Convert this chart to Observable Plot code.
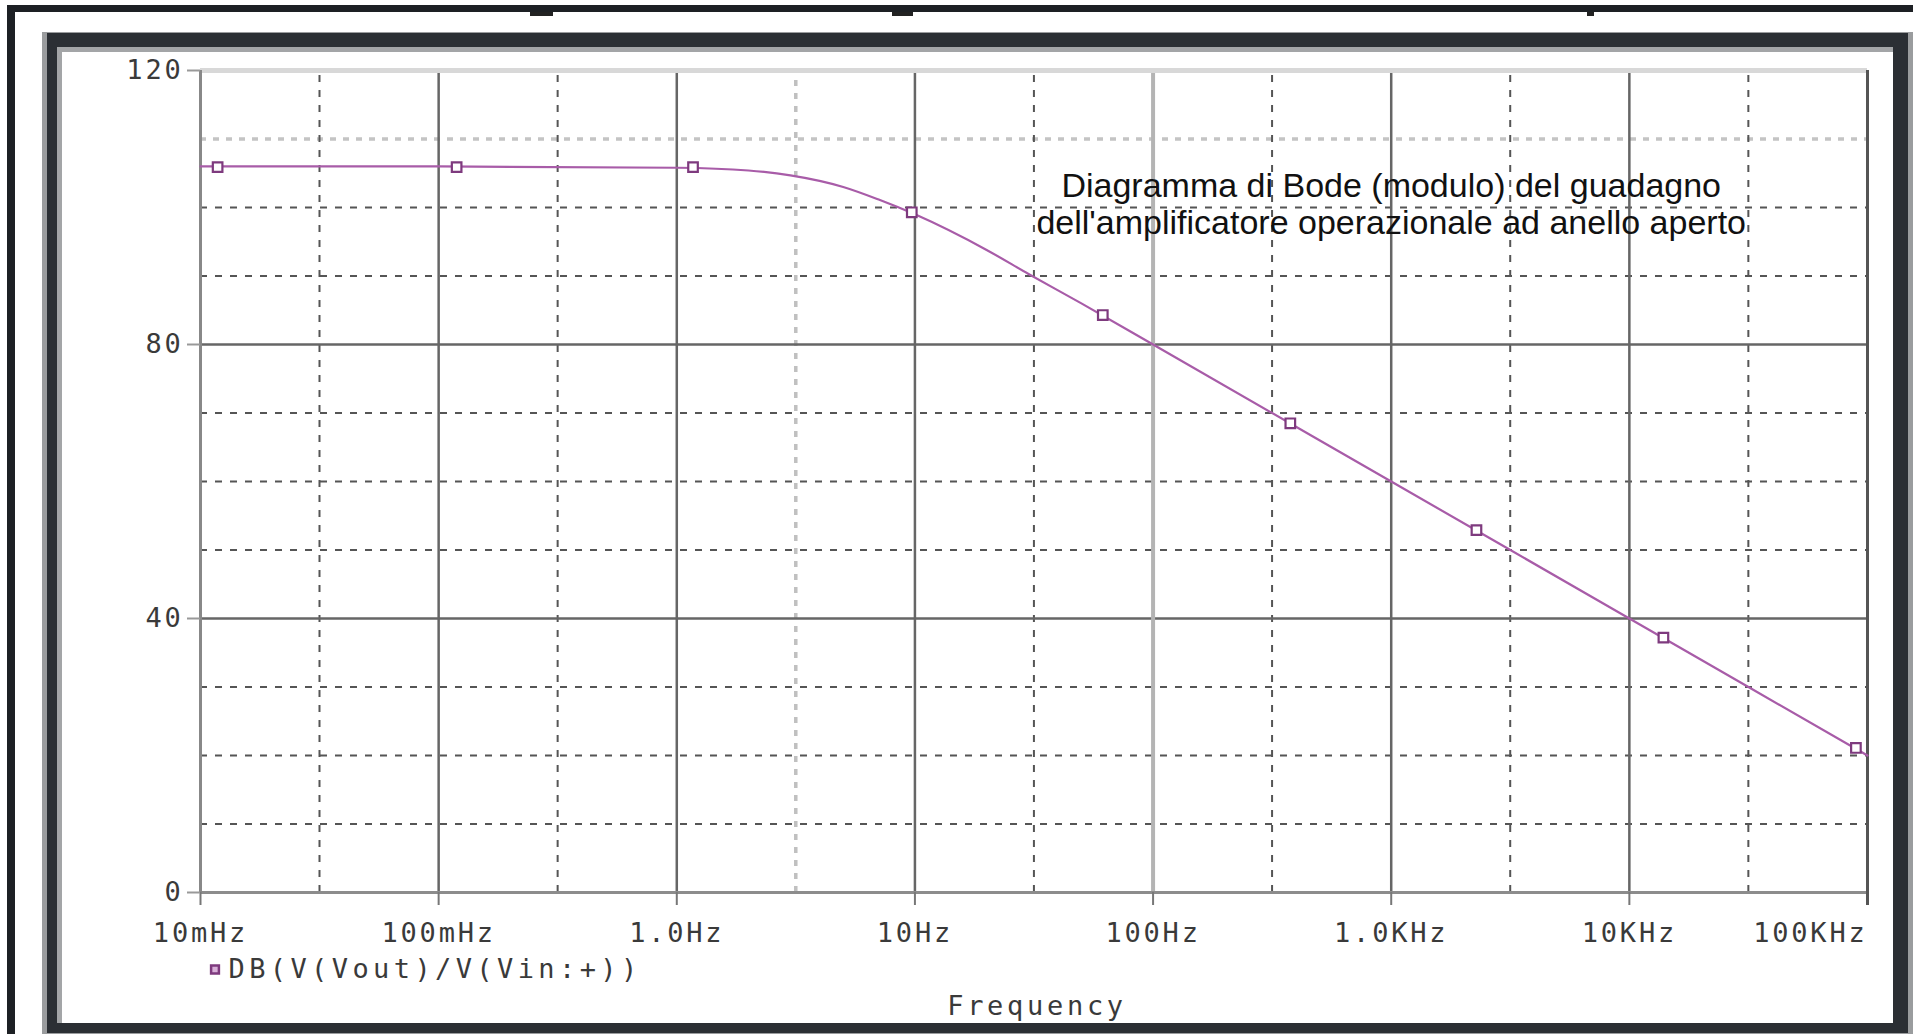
<!DOCTYPE html>
<html>
<head>
<meta charset="utf-8">
<script src="https://cdn.jsdelivr.net/npm/d3@7"></script>
<script src="https://cdn.jsdelivr.net/npm/@observablehq/plot@0.6"></script>
<style>
  html, body { margin: 0; padding: 0; background: #ffffff; width: 1919px; height: 1034px; overflow: hidden; }
  body { position: relative; }
  .bx { position: absolute; }
  #chart { position: absolute; left: 62px; top: 52px; width: 1831px; height: 971px; }
  #chart svg text { letter-spacing: 2.8px; }
</style>
</head>
<body>
<!-- outer screenshot border -->
<div class="bx" style="left:7px;top:5px;width:1906px;height:7px;background:#1d2024"></div>
<div class="bx" style="left:7px;top:5px;width:8px;height:1029px;background:#1d2024"></div>
<div class="bx" style="left:530px;top:12px;width:23px;height:4px;background:#222"></div>
<div class="bx" style="left:892px;top:12px;width:21px;height:4px;background:#222"></div>
<div class="bx" style="left:1587px;top:12px;width:7px;height:4px;background:#222"></div>
<!-- probe window frame -->
<div class="bx" style="left:42px;top:32px;width:1871px;height:1002px;background:#9a9c9e"></div>
<div class="bx" style="left:47px;top:33px;width:1861px;height:1000px;background:#2b2f34"></div>
<div class="bx" style="left:57px;top:47px;width:1836px;height:976px;background:#a3a5a7"></div>
<div class="bx" style="left:62px;top:52px;width:1831px;height:971px;background:#ffffff"></div>
<div id="chart"></div>
<script>
// ---- data ----
const xTicks = [0.01, 0.1, 1, 10, 100, 1000, 10000, 100000];
const xTickLabels = ["10mHz", "100mHz", "1.0Hz", "10Hz", "100Hz", "1.0KHz", "10KHz", "100KHz"];
const xHalfDecades = [0.0316, 0.316, 31.6, 316, 3160, 31600];
const xHalfDecadesLight = [3.16];
const xDecadeLight = [100];
const yTicks = [0, 40, 80, 120];
const yMajorLines = [40, 80];
const yMinorLines = [10, 20, 30, 50, 60, 70, 90, 100];
const yMinorLight = [110];

const freqHz = [0.01, 0.1, 1, 2, 3, 5, 7, 10, 20, 30, 50, 100, 1000, 10000, 100000];
const gainDb = [106, 106, 105.8, 105.4, 104.7, 103, 101.2, 99, 93.8, 90.3, 86, 80, 60, 40, 20];

const markerHz = [0.0118, 0.119, 1.17, 9.7, 61.5, 377, 2280, 13900, 89400];
const markerDb = [105.9, 105.9, 105.9, 99.3, 84.3, 68.5, 52.9, 37.2, 21.1];

const seriesName = "DB(V(Vout)/V(Vin:+))";
const xAxisLabel = "Frequency";
const noteText = "Diagramma di Bode (modulo) del guadagno\ndell'amplificatore operazionale ad anello aperto";
const noteAtHz = 1000;
const noteAtDb = 100.6;

// ---- build ----
const curve = freqHz.map((f, i) => ({f, db: gainDb[i]}));
const markers = markerHz.map((f, i) => ({f, db: markerDb[i]}));
const lineColor = "#a85ca8";
const markColor = "#7e3a7e";
const inner = xTicks.slice(1, -1).filter(d => !xDecadeLight.includes(d));

const chart = Plot.plot({
  width: 1831,
  height: 971,
  marginLeft: 138,
  marginRight: 26,
  marginTop: 18,
  marginBottom: 131,
  x: {type: "log", domain: [0.01, 100000], axis: null},
  y: {domain: [0, 120], axis: null},
  style: {
    background: "transparent",
    fontFamily: "'DejaVu Sans Mono', 'Liberation Mono', monospace",
    fontSize: "27px",
    color: "#3a3a3a",
    overflow: "visible"
  },
  marks: [
    Plot.ruleY(yMinorLines, {stroke: "#555", strokeWidth: 2, strokeDasharray: "7,8"}),
    Plot.ruleY(yMinorLight, {stroke: "#c4c4c4", strokeWidth: 3.5, strokeDasharray: "6,7"}),
    Plot.ruleX(xHalfDecades, {y1: 0, y2: 120, stroke: "#555", strokeWidth: 2, strokeDasharray: "7,8"}),
    Plot.ruleX(xHalfDecadesLight, {y1: 0, y2: 120, stroke: "#c0c0c0", strokeWidth: 3.5, strokeDasharray: "6,7"}),
    Plot.ruleY(yMajorLines, {stroke: "#666", strokeWidth: 2.5}),
    Plot.ruleX(inner, {y1: 0, y2: 120, stroke: "#666", strokeWidth: 2.5}),
    Plot.ruleX(xDecadeLight, {y1: 0, y2: 120, stroke: "#b4b4b4", strokeWidth: 4}),
    Plot.ruleY([120], {stroke: "#d8d8d8", strokeWidth: 5}),
    Plot.ruleY([0], {stroke: "#8c8c8c", strokeWidth: 3}),
    Plot.ruleX([0.01], {y1: 0, y2: 120, stroke: "#888", strokeWidth: 3}),
    Plot.ruleX([100000], {y1: 0, y2: 120, stroke: "#555", strokeWidth: 3}),
    Plot.axisX(xTicks.slice(0, -1), {
      tickSize: 13, tickPadding: 17, stroke: "#777", strokeWidth: 2, label: null,
      tickFormat: (d) => xTickLabels[xTicks.indexOf(d)]
    }),
    Plot.axisX(xTicks.slice(-1), {
      tickSize: 13, tickPadding: 17, stroke: "#555", strokeWidth: 3, label: null, textAnchor: "end",
      tickFormat: (d) => xTickLabels[xTicks.indexOf(d)]
    }),
    Plot.axisY(yTicks, {tickSize: 13, tickPadding: 4, stroke: "#999", strokeWidth: 2, label: null}),
    Plot.line(curve, {x: "f", y: "db", stroke: lineColor, strokeWidth: 2.2, curve: "monotone-x"}),
    Plot.dot(markers, {x: "f", y: "db", symbol: "square", r: 5.4, stroke: markColor, strokeWidth: 2.2, fill: "white"}),
    Plot.text([noteText], {
      x: noteAtHz, y: noteAtDb, fontFamily: "'Liberation Sans', Arial, sans-serif",
      fontSize: 34, lineHeight: 1.09, fill: "#111", textAnchor: "middle", lineAnchor: "middle"
    }),
    Plot.dot([seriesName], {frameAnchor: "bottom-left", dx: 14.5, dy: 77, symbol: "square", r: 4.4, fill: "#d8b0d8", stroke: markColor, strokeWidth: 2.5}),
    Plot.text([seriesName], {frameAnchor: "bottom-left", dx: 28, dy: 77, textAnchor: "start", lineAnchor: "middle", fill: "#3a3a3a"}),
    Plot.text([xAxisLabel], {frameAnchor: "bottom", dy: 114, dx: 3, lineAnchor: "middle", fill: "#3a3a3a"})
  ]
});
document.getElementById("chart").appendChild(chart);
const texts = chart.querySelectorAll("text");
texts.forEach(t => {
  const s = t.textContent;
  if (s === seriesName) t.style.letterSpacing = "4.4px";
  else if (s === xAxisLabel) t.style.letterSpacing = "3.7px";
});
chart.querySelectorAll('g[font-family*="Liberation Sans"] text, g[font-family*="Liberation Sans"] tspan').forEach(t => { t.style.letterSpacing = "0px"; });
</script>
</body>
</html>
